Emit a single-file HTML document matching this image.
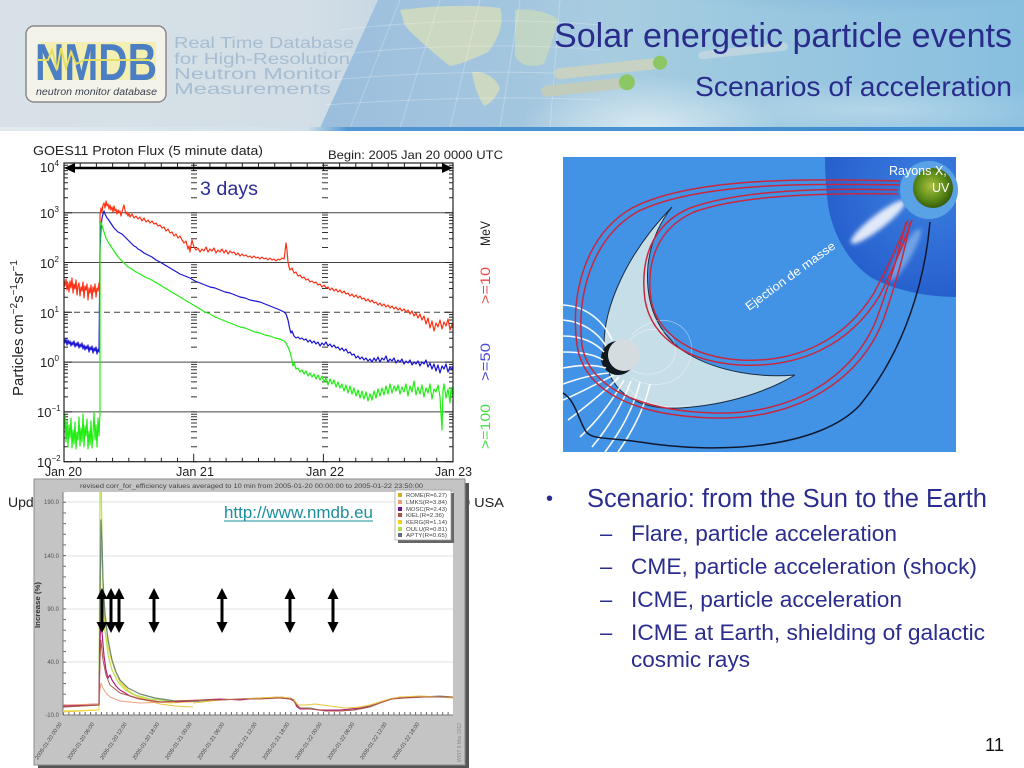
<!DOCTYPE html>
<html><head><meta charset="utf-8">
<style>
html,body{margin:0;padding:0;background:#fff;}
svg{display:block;}
text{font-family:"Liberation Sans",Arial,sans-serif;}
</style></head><body>
<svg width="1024" height="768" viewBox="0 0 1024 768" xmlns="http://www.w3.org/2000/svg">
<defs>
 <linearGradient id="hg" x1="0" y1="0" x2="1" y2="0">
  <stop offset="0" stop-color="#d8e1e7"/>
  <stop offset="0.3" stop-color="#d3dee6"/>
  <stop offset="0.45" stop-color="#bcd2e2"/>
  <stop offset="0.65" stop-color="#a2cbe0"/>
  <stop offset="1" stop-color="#88bfdf"/>
 </linearGradient>
 <linearGradient id="mapg" x1="0" y1="0" x2="1" y2="0">
  <stop offset="0" stop-color="#94badc" stop-opacity="0.9"/>
  <stop offset="0.6" stop-color="#9cc2de" stop-opacity="0.7"/>
  <stop offset="1" stop-color="#a2cbe0" stop-opacity="0"/>
 </linearGradient>
 <radialGradient id="tr" cx="0.5" cy="0" r="0.5">
  <stop offset="0" stop-color="#3f7fcc" stop-opacity="0.5"/>
  <stop offset="1" stop-color="#3f7fcc" stop-opacity="0"/>
 </radialGradient>
 <radialGradient id="sw" cx="0.5" cy="0.5" r="0.5">
  <stop offset="0" stop-color="#ffffff" stop-opacity="0.6"/>
  <stop offset="1" stop-color="#ffffff" stop-opacity="0"/>
 </radialGradient>
 <linearGradient id="hb" x1="0" y1="0" x2="1" y2="0">
  <stop offset="0" stop-color="#e2eaef"/>
  <stop offset="0.3" stop-color="#d0e0ea"/>
  <stop offset="0.34" stop-color="#4f96d2"/>
  <stop offset="1" stop-color="#3a8ad0"/>
 </linearGradient>
 <radialGradient id="fan" cx="929" cy="190" r="150" gradientUnits="userSpaceOnUse">
  <stop offset="0" stop-color="#3b7fe0"/>
  <stop offset="0.6" stop-color="#2a64d0"/>
  <stop offset="1" stop-color="#1d55c4"/>
 </radialGradient>
 <radialGradient id="sun" cx="0.45" cy="0.45" r="0.6">
  <stop offset="0" stop-color="#a8c040"/>
  <stop offset="0.6" stop-color="#5a8a18"/>
  <stop offset="1" stop-color="#2f5208"/>
 </radialGradient>
 <filter id="bl" x="-50%" y="-50%" width="200%" height="200%"><feGaussianBlur stdDeviation="2"/></filter>
 <clipPath id="gc"><rect x="64" y="163" width="389" height="299"/></clipPath>
 <clipPath id="nc"><rect x="63" y="492" width="390" height="223"/></clipPath>
 <clipPath id="hc"><rect x="0" y="0" width="1024" height="128"/></clipPath>
 <g id="tl"><path d="M0 0h8M0-15h4M0-23.8h4M0-30h4M0-34.8h4M0-38.7h4M0-42.1h4M0-45h4M0-47.5h4" stroke="#222" stroke-width="1" fill="none"/></g>
 <g id="tR"><path d="M0 0h-8M0-15h-4M0-23.8h-4M0-30h-4M0-34.8h-4M0-38.7h-4M0-42.1h-4M0-45h-4M0-47.5h-4" stroke="#222" stroke-width="1" fill="none"/></g>
 <g id="tC"><path d="M-3 0h6M-3-15h6M-3-23.8h6M-3-30h6M-3-34.8h6M-3-38.7h6M-3-42.1h6M-3-45h6M-3-47.5h6" stroke="#333" stroke-width="1" fill="none"/></g>
 <pattern id="xt" x="63" y="0" width="5.417" height="768" patternUnits="userSpaceOnUse"><rect x="0" y="0" width="1" height="768" fill="#666"/></pattern>
 <pattern id="yt" x="0" y="715" width="20" height="10.66" patternUnits="userSpaceOnUse"><rect x="0" y="0" width="20" height="1" fill="#666"/></pattern>
</defs>

<!-- HEADER -->
<g clip-path="url(#hc)">
 <rect x="0" y="0" width="1024" height="128" fill="url(#hg)"/>
 <rect x="560" y="-60" width="600" height="150" fill="url(#tr)"/>
 <path d="M378 0 L660 0 L660 128 L320 128 Z" fill="url(#mapg)"/>
 <path d="M400 10 C430 6 470 4 500 8 C505 22 498 40 488 52 C475 58 462 64 450 66 C436 55 418 40 405 26 Z" fill="#d9dfb8" opacity="0.75"/>
 <path d="M472 72 C484 70 496 78 500 88 C496 98 490 104 484 106 C478 96 474 86 472 72 Z" fill="#d9dfb8" opacity="0.75"/>
 <path d="M515 10 C530 8 550 12 558 20 C554 34 550 48 544 64 C532 68 520 66 515 56 Z" fill="#cddcb8" opacity="0.7"/>
 <g stroke="#ffffff" stroke-opacity="0.25" stroke-width="1" fill="none">
  <path d="M340 30 C420 20 520 18 600 25"/>
  <path d="M335 55 C420 45 520 43 600 50"/>
  <path d="M330 80 C420 72 520 70 600 75"/>
  <path d="M325 105 C420 98 520 96 600 100"/>
  <path d="M400 0 L350 128M440 0 L400 128M480 0 L450 128M520 0 L500 128M560 0 L550 128"/>
 </g>
 <ellipse cx="650" cy="130" rx="130" ry="55" fill="url(#sw)"/>
 <ellipse cx="880" cy="110" rx="200" ry="30" fill="url(#sw)" opacity="0.5"/>
 <g transform="rotate(-6 600 75)">
  <rect x="555" y="64" width="105" height="11" rx="5" fill="#c8d2c2"/>
  <circle cx="661" cy="69" r="7" fill="#8cc764"/>
  <rect x="540" y="80" width="85" height="11" rx="5" fill="#c2ccbc"/>
  <circle cx="626" cy="85" r="8" fill="#8cc764"/>
  <rect x="700" y="62" width="90" height="8" rx="4" fill="#d0dce0" opacity="0.6"/>
 </g>
</g>
<rect x="0" y="127" width="1024" height="4" fill="url(#hb)"/>

<!-- logo -->
<rect x="26" y="26" width="140" height="76" rx="8" fill="#f4f3ea" stroke="#8a8a8a" stroke-width="1.5"/>
<rect x="40" y="42" width="116" height="38" fill="#f2ec9a" opacity="0.7"/>
<text x="35" y="80" font-size="52" font-weight="bold" fill="#4b7ec2" textLength="122" lengthAdjust="spacingAndGlyphs">NMDB</text>
<polyline points="38,60 48,60 52,50 57,70 61,48 66,68 71,52 76,64 84,60 150,60" fill="none" stroke="#e6de60" stroke-width="2"/>
<text x="36" y="95" font-size="10" font-style="italic" fill="#3a4050" textLength="121" lengthAdjust="spacingAndGlyphs">neutron monitor database</text>
<g fill="#a6bdd2" font-size="16">
 <text x="174" y="48" textLength="180" lengthAdjust="spacingAndGlyphs">Real Time Database</text>
 <text x="174" y="64" textLength="176" lengthAdjust="spacingAndGlyphs">for High-Resolution</text>
 <text x="174" y="79" textLength="167" lengthAdjust="spacingAndGlyphs">Neutron Monitor</text>
 <text x="174" y="94" textLength="157" lengthAdjust="spacingAndGlyphs">Measurements</text>
</g>
<text x="554" y="47" font-size="34" fill="#2a2c8c" textLength="458" lengthAdjust="spacingAndGlyphs">Solar energetic particle events</text>
<text x="695" y="96" font-size="28" fill="#2a2c8c" textLength="317" lengthAdjust="spacingAndGlyphs">Scenarios of acceleration</text>

<!-- GOES CHART -->
<text x="33" y="155" font-size="13" fill="#222" textLength="230" lengthAdjust="spacingAndGlyphs">GOES11 Proton Flux (5 minute data)</text>
<text x="328" y="159" font-size="12" fill="#222" textLength="175" lengthAdjust="spacingAndGlyphs">Begin: 2005 Jan 20 0000 UTC</text>

<g stroke="#444" stroke-width="1" fill="none">
 <path d="M64 212.7H453M64 262.5H453M64 362.1H453M64 411.9H453"/>
 <path d="M64 312.3H453" stroke-dasharray="6,4"/>
</g>
<use href="#tl" x="64" y="461.7"/><use href="#tl" x="64" y="411.9"/><use href="#tl" x="64" y="362.1"/>
<use href="#tl" x="64" y="312.3"/><use href="#tl" x="64" y="262.5"/><use href="#tl" x="64" y="212.7"/>
<use href="#tR" x="453" y="461.7"/><use href="#tR" x="453" y="411.9"/><use href="#tR" x="453" y="362.1"/>
<use href="#tR" x="453" y="312.3"/><use href="#tR" x="453" y="262.5"/><use href="#tR" x="453" y="212.7"/>
<use href="#tC" x="194" y="461.7"/><use href="#tC" x="194" y="411.9"/><use href="#tC" x="194" y="362.1"/>
<use href="#tC" x="194" y="312.3"/><use href="#tC" x="194" y="262.5"/><use href="#tC" x="194" y="212.7"/>
<use href="#tC" x="325" y="461.7"/><use href="#tC" x="325" y="411.9"/><use href="#tC" x="325" y="362.1"/>
<use href="#tC" x="325" y="312.3"/><use href="#tC" x="325" y="262.5"/><use href="#tC" x="325" y="212.7"/>
<path d="M80.2 461.7v-4M96.4 461.7v-4M112.6 461.7v-4M128.8 461.7v-4M145 461.7v-4M161.3 461.7v-4M177.5 461.7v-4M193.7 461.7v-8M209.9 461.7v-4M226.1 461.7v-4M242.3 461.7v-4M258.5 461.7v-4M274.7 461.7v-4M290.9 461.7v-4M307.2 461.7v-4M323.4 461.7v-8M339.6 461.7v-4M355.8 461.7v-4M372 461.7v-4M388.2 461.7v-4M404.4 461.7v-4M420.6 461.7v-4M436.8 461.7v-4
M80.2 163v4M96.4 163v4M112.6 163v4M128.8 163v4M145 163v4M161.3 163v4M177.5 163v4M193.7 163v8M209.9 163v4M226.1 163v4M242.3 163v4M258.5 163v4M274.7 163v4M290.9 163v4M307.2 163v4M323.4 163v8M339.6 163v4M355.8 163v4M372 163v4M388.2 163v4M404.4 163v4M420.6 163v4M436.8 163v4" stroke="#222" stroke-width="1"/>

<g clip-path="url(#gc)" fill="none" stroke-width="1.2" stroke-linejoin="round">
 <polyline stroke="#ff3216" points="64,280 65,286 66,279 67,290 68,283 69,292 70,281 71,288 72,278 73,293 74,284 75,289 76,280 77,295 78,286 79,283 80,296 81,287 82,291 83,282 84,298 85,286 86,290 87,284 88,300 89,288 90,293 91,285 92,299 93,287 94,292 95,284 96,297 97,288 98,291 99,283 100,295 100,215 101,208 102,212 103,205 104,203 105,208 106,201 107,206 108,204 109,209 110,205 111,210 112,207 113,212 114,206 115,211 116,209 117,214 118,210 119,213 120,211 121,216 122,212 123,208 124,205 125,210 126,214 127,212 128,216 129,213 130,217 132,214 134,218 136,216 138,219 140,217 142,221 144,218 146,222 148,220 150,223 152,221 154,224 156,223 158,226 160,225 162,228 164,227 166,231 168,229 170,233 172,232 174,236 176,234 178,238 180,236 182,240 184,243 186,241 188,249 189,246 190,252 191,245 192,240 193,244 194,247 196,250 198,248 200,252 202,249 204,251 206,247 208,252 210,249 212,251 214,248 216,253 218,250 220,252 222,249 224,253 226,250 228,254 230,251 232,253 234,252 236,255 238,253 240,256 242,254 244,256 246,255 248,257 250,256 252,258 254,256 256,258 258,257 260,259 262,257 264,259 266,258 268,260 270,258 272,260 274,259 276,261 278,259 280,260 282,258 284,259 285,252 286,243 287,250 288,262 289,267 290,270 292,268 294,273 296,272 298,276 300,275 302,278 304,277 306,280 308,279 310,282 312,281 314,283 316,282 318,285 320,284 322,287 324,285 326,288 328,287 330,290 332,288 334,291 336,289 338,292 340,290 342,293 344,291 346,294 348,293 350,296 352,294 354,297 356,295 358,298 360,296 362,299 364,298 366,301 368,299 370,302 372,300 374,303 376,302 378,305 380,303 382,306 384,304 386,307 388,305 390,308 392,306 394,309 396,307 398,310 400,308 402,311 404,309 406,312 408,310 410,314 412,311 414,316 416,313 418,318 420,314 422,320 424,316 426,324 428,318 430,328 432,321 434,331 436,323 438,327 440,320 442,329 444,322 446,326 448,319 450,330 452,324 453,327"/>
 <polyline stroke="#1a14d2" points="64,338 65,343 66,339 67,345 68,340 69,344 70,341 71,346 72,342 73,345 74,341 75,347 76,343 77,346 78,342 79,348 80,344 81,347 82,343 83,349 84,345 85,350 86,346 87,349 88,345 89,352 90,347 91,350 92,346 93,353 94,348 95,351 96,347 97,354 98,349 99,352 100,250 101,228 102,218 103,214 104,211 105,214 106,216 107,218 108,219 110,222 112,225 114,228 116,230 118,232 120,233 122,234 124,236 126,238 128,240 130,242 132,244 134,246 136,247 138,249 140,250 144,253 148,255 152,257 156,260 160,262 165,265 170,268 175,271 180,274 185,276 190,278 195,281 200,283 205,285 210,287 215,288 220,290 225,292 230,293 235,295 240,297 245,298 250,300 255,301 260,302 265,304 270,306 275,308 280,310 284,312 286,314 288,320 290,330 291,333 292,331 294,336 296,338 298,337 300,339 302,338 304,340 306,339 308,342 310,340 312,343 314,341 316,344 318,342 320,346 322,343 324,345 326,342 328,346 330,344 332,347 334,345 336,348 338,347 340,350 342,348 344,351 346,349 348,353 350,352 352,355 354,354 356,358 358,356 360,359 362,357 364,360 366,358 368,361 370,359 372,362 374,358 376,361 378,357 380,362 382,358 384,360 386,356 388,362 390,359 392,361 394,358 396,363 398,360 400,362 402,359 404,364 406,361 408,363 410,360 412,365 414,362 416,364 418,361 420,366 422,362 424,364 426,360 428,367 430,363 432,369 434,364 436,371 438,365 440,373 442,366 444,369 446,364 448,372 450,367 452,370 453,366"/>
 <polyline stroke="#22ee14" points="64,430 65,415 66,442 67,420 68,447 69,425 70,438 71,418 72,448 73,430 74,444 75,422 76,449 77,432 78,440 79,417 80,446 81,428 82,442 83,414 84,447 85,426 86,436 87,419 88,449 89,431 90,445 91,421 92,448 93,433 94,412 95,440 96,425 97,447 98,418 99,436 100,412 100,225 101,222 102,226 103,229 104,232 105,235 106,238 108,242 110,245 112,248 114,251 116,254 118,257 120,259 122,261 124,263 126,265 128,267 130,268 133,270 136,272 140,274 145,277 150,279 155,282 160,285 165,288 170,291 175,294 180,297 185,300 190,303 195,306 200,309 205,312 210,314 215,317 220,319 225,321 230,323 235,325 240,327 245,328 250,330 255,332 260,333 265,335 270,336 275,338 280,339 284,341 286,343 288,347 290,352 292,360 293,366 294,363 296,369 298,368 300,372 302,370 304,374 306,371 308,376 310,373 312,377 314,374 316,379 318,375 320,380 322,376 324,382 326,378 328,385 330,379 332,384 334,380 336,387 338,382 340,388 342,384 344,391 346,385 348,393 350,386 352,394 354,388 356,396 358,390 360,398 362,391 364,399 366,392 368,401 370,394 372,400 374,391 376,398 378,389 380,396 382,388 384,395 386,386 388,394 390,384 392,393 394,386 396,391 398,385 400,394 402,387 404,392 406,384 408,396 410,386 412,392 414,381 416,395 418,387 420,394 422,385 424,397 426,388 428,393 430,384 432,399 434,389 436,392 438,385 440,397 442,430 443,390 444,384 446,398 448,389 450,403 451,388 452,395 453,385"/>
</g>
<rect x="64" y="163" width="389" height="298.7" fill="none" stroke="#222" stroke-width="1.2"/>
<line x1="72" y1="168" x2="445" y2="168" stroke="#000" stroke-width="2.5"/>
<path d="M64 168 L75 163 L75 173 Z M453 168 L442 163 L442 173 Z" fill="#000"/>
<text x="200" y="195" font-size="19" fill="#2d2d96" textLength="58" lengthAdjust="spacingAndGlyphs">3 days</text>

<g font-size="13" fill="#222">
 <text x="40" y="172">10<tspan font-size="8" dy="-6">4</tspan></text>
 <text x="40" y="218">10<tspan font-size="8" dy="-6">3</tspan></text>
 <text x="40" y="268">10<tspan font-size="8" dy="-6">2</tspan></text>
 <text x="40" y="318">10<tspan font-size="8" dy="-6">1</tspan></text>
 <text x="40" y="367">10<tspan font-size="8" dy="-6">0</tspan></text>
 <text x="37" y="417">10<tspan font-size="8" dy="-6">−1</tspan></text>
 <text x="37" y="467">10<tspan font-size="8" dy="-6">−2</tspan></text>
 <text x="45" y="476" textLength="37" lengthAdjust="spacingAndGlyphs">Jan 20</text>
 <text x="176" y="476" textLength="38" lengthAdjust="spacingAndGlyphs">Jan 21</text>
 <text x="306" y="476" textLength="38" lengthAdjust="spacingAndGlyphs">Jan 22</text>
 <text x="435" y="476" textLength="37" lengthAdjust="spacingAndGlyphs">Jan 23</text>
 <text x="8" y="507" font-size="14">Upd</text>
 <text x="462" y="507" font-size="13" textLength="42" lengthAdjust="spacingAndGlyphs">0 USA</text>
</g>
<text transform="translate(23,396) rotate(-90)" font-size="15" fill="#222">Particles cm<tspan font-size="10" dy="-6">−2</tspan><tspan dy="6">s</tspan><tspan font-size="10" dy="-6">−1</tspan><tspan dy="6">sr</tspan><tspan font-size="10" dy="-6">−1</tspan></text>
<g font-size="14">
 <text transform="translate(490,246) rotate(-90)" fill="#222" textLength="25" lengthAdjust="spacingAndGlyphs">MeV</text>
 <text transform="translate(490,304) rotate(-90)" fill="#f04848" textLength="37" lengthAdjust="spacingAndGlyphs">&gt;=10</text>
 <text transform="translate(490,381) rotate(-90)" fill="#4848d4" textLength="38" lengthAdjust="spacingAndGlyphs">&gt;=50</text>
 <text transform="translate(490,449) rotate(-90)" fill="#48dc48" textLength="45" lengthAdjust="spacingAndGlyphs">&gt;=100</text>
</g>

<!-- NMDB panel -->
<rect x="38" y="483" width="431" height="290" fill="#555"/>
<rect x="34" y="479" width="431" height="286" fill="#c4c4c4" stroke="#8c8c8c" stroke-width="1"/>
<rect x="63" y="492" width="390" height="223" fill="#fff"/>
<text x="80" y="488" font-size="6.5" fill="#444" textLength="343" lengthAdjust="spacingAndGlyphs">revised corr_for_efficiency values averaged to 10 min from 2005-01-20 00:00:00 to 2005-01-22 23:50:00</text>
<g stroke="#e2e2e2" stroke-width="1"><path d="M63 502H453M63 556H453M63 609H453M63 662H453"/></g>
<rect x="63" y="492" width="3" height="223" fill="url(#yt)"/>
<rect x="63" y="712" width="390" height="3" fill="url(#xt)"/>
<line x1="63" y1="492" x2="63" y2="715" stroke="#777"/>
<line x1="63" y1="715" x2="453" y2="715" stroke="#777"/>
<g font-size="6" fill="#555" text-anchor="end">
 <text x="59" y="504">190.0</text><text x="59" y="558">140.0</text><text x="59" y="611">90.0</text><text x="59" y="664">40.0</text><text x="59" y="717">-10.0</text>
</g>
<text transform="translate(40,628) rotate(-90)" font-size="7.5" font-weight="bold" fill="#333" textLength="46" lengthAdjust="spacingAndGlyphs">Increase (%)</text>
<g font-size="5.5" fill="#444" text-anchor="end">
 <text transform="translate(62,724) rotate(-56)">2005-01-20 00:00</text>
 <text transform="translate(94.5,724) rotate(-56)">2005-01-20 06:00</text>
 <text transform="translate(127,724) rotate(-56)">2005-01-20 12:00</text>
 <text transform="translate(159.5,724) rotate(-56)">2005-01-20 18:00</text>
 <text transform="translate(192,724) rotate(-56)">2005-01-21 00:00</text>
 <text transform="translate(224.5,724) rotate(-56)">2005-01-21 06:00</text>
 <text transform="translate(257,724) rotate(-56)">2005-01-21 12:00</text>
 <text transform="translate(289.5,724) rotate(-56)">2005-01-21 18:00</text>
 <text transform="translate(322,724) rotate(-56)">2005-01-22 00:00</text>
 <text transform="translate(354.5,724) rotate(-56)">2005-01-22 06:00</text>
 <text transform="translate(387,724) rotate(-56)">2005-01-22 12:00</text>
 <text transform="translate(419.5,724) rotate(-56)">2005-01-22 18:00</text>
</g>
<text transform="translate(461,762) rotate(-90)" font-size="5" fill="#888">WIST  8 Mar 2012</text>

<g clip-path="url(#nc)" fill="none" stroke-width="1" stroke-linejoin="round">
 <polyline stroke="#e8c838" points="63,712 80,711 99,710 100,650 101,545 102,560 104,600 107,630 110,650 114,668 120,682 130,693 145,700 160,704 175,706 193,707"/>
 <polyline stroke="#f2dc40" points="63,711 99,710 100,630 102,612 105,632 110,656 115,670 120,680 128,690 135,695 150,701 170,703 190,702 200,701"/>
 <polyline stroke="#b8e04a" stroke-width="1.2" points="63,706 80,705 99,704 100,492 101,470 102,540 103,590 105,630 108,655 112,670 118,682 125,690 135,695 150,699 170,701 200,701"/>
 <polyline stroke="#6e8a74" stroke-width="1.2" points="63,707 80,706 99,705 100,600 101,520 102,540 103,580 105,615 108,640 112,660 116,672 120,680 128,688 140,694 155,698 175,701 200,701"/>
 <polyline stroke="#b0207c" stroke-width="1.2" points="63,706 80,705 99,704 100,640 101,620 102,632 104,656 106,670 108,678 110,675 112,680 116,686 120,690 130,696 140,699 160,702 200,701"/>
 <polyline stroke="#f0a080" points="63,705 99,704 100,690 101,683 103,688 106,693 110,697 120,701 140,703 200,701"/>
 <polyline stroke="#b05848" points="63,707 99,705 100,660 101,640 103,660 106,675 110,685 120,693 140,699 160,702 200,701"/>
 <polyline stroke="#6e8a74" points="175,701 200,701 220,700 240,699 260,698 280,697 290,698 294,700 297,706 300,708 310,708 320,710 330,711 340,711 350,710 360,709 370,707 380,703 390,699 400,697 420,697 440,696 453,697"/>
 <polyline stroke="#b0207c" points="175,702 200,700 220,699 240,700 260,698 280,698 290,699 294,701 297,707 300,709 310,709 320,710 330,710 340,710 350,709 360,708 370,706 380,702 390,699 400,698 420,697 440,697 453,697"/>
 <polyline stroke="#e8c838" points="193,703 220,700 240,699 260,698 280,697 290,698 295,701 298,705 305,705 315,704 330,706 345,708 360,707 370,705 380,702 390,699 400,697 420,696 440,697 453,698"/>
 <polyline stroke="#b05848" points="175,701 200,700 220,700 240,699 260,699 280,698 292,699 296,704 300,708 312,709 325,711 340,711 355,710 368,707 380,703 392,699 405,698 425,697 453,697"/>
</g>
<rect x="398" y="493" width="56" height="50" fill="#666"/>
<rect x="395" y="490" width="56" height="50" fill="#fff" stroke="#999" stroke-width="0.7"/>
<g font-size="5.5" fill="#444">
 <rect x="398" y="493" width="4" height="4" fill="#d4b020"/><text x="406" y="497" textLength="41" lengthAdjust="spacingAndGlyphs">ROME(R=6.27)</text>
 <rect x="398" y="500" width="4" height="4" fill="#f0a070"/><text x="406" y="504" textLength="41" lengthAdjust="spacingAndGlyphs">LMKS(R=3.84)</text>
 <rect x="398" y="507" width="4" height="4" fill="#7010a0"/><text x="406" y="511" textLength="41" lengthAdjust="spacingAndGlyphs">MOSC(R=2.43)</text>
 <rect x="398" y="513" width="4" height="4" fill="#b05040"/><text x="406" y="517" textLength="38" lengthAdjust="spacingAndGlyphs">KIEL(R=2.36)</text>
 <rect x="398" y="520" width="4" height="4" fill="#f0d020"/><text x="406" y="524" textLength="41" lengthAdjust="spacingAndGlyphs">KERG(R=1.14)</text>
 <rect x="398" y="527" width="4" height="4" fill="#b0e040"/><text x="406" y="531" textLength="41" lengthAdjust="spacingAndGlyphs">OULU(R=0.81)</text>
 <rect x="398" y="533" width="4" height="4" fill="#607080"/><text x="406" y="537" textLength="41" lengthAdjust="spacingAndGlyphs">APTY(R=0.65)</text>
</g>
<text x="224" y="518" font-size="17" fill="#1b8f9e" textLength="149" lengthAdjust="spacingAndGlyphs">http://www.nmdb.eu</text>
<line x1="224" y1="521" x2="373" y2="521" stroke="#1b8f9e" stroke-width="1"/>
<g stroke="#000" stroke-width="3">
 <path d="M102 596V625M111 596V625M119 596V625M154 596V625M222 596V625M290 596V625M333 596V625"/>
</g>
<g fill="#000">
 <path d="M96.5 599L102 588L107.5 599ZM96.5 622L102 633L107.5 622Z"/>
 <path d="M105.5 599L111 588L116.5 599ZM105.5 622L111 633L116.5 622Z"/>
 <path d="M113.5 599L119 588L124.5 599ZM113.5 622L119 633L124.5 622Z"/>
 <path d="M148.5 599L154 588L159.5 599ZM148.5 622L154 633L159.5 622Z"/>
 <path d="M216.5 599L222 588L227.5 599ZM216.5 622L222 633L227.5 622Z"/>
 <path d="M284.5 599L290 588L295.5 599ZM284.5 622L290 633L295.5 622Z"/>
 <path d="M327.5 599L333 588L338.5 599ZM327.5 622L333 633L338.5 622Z"/>
</g>

<!-- RIGHT IMAGE -->
<rect x="563" y="157" width="393" height="295" fill="#4293e6"/>
<path d="M825 157 L956 157 L956 297 C925 297 895 290 872 278 C848 262 833 235 828 205 C826 188 825 172 825 157 Z" fill="url(#fan)"/>
<g filter="url(#bl)">
 <ellipse cx="878" cy="222" rx="34" ry="7" transform="rotate(-38 878 222)" fill="#ffffff" opacity="0.85"/>
 <ellipse cx="905" cy="255" rx="30" ry="6" transform="rotate(-60 905 255)" fill="#9cc4f0" opacity="0.6"/>
</g>
<circle cx="929" cy="190" r="29" fill="#5aa2e6"/>
<circle cx="933" cy="188" r="20" fill="url(#sun)"/>
<text x="889" y="175" font-size="12.5" fill="#fff">Rayons X,</text>
<text x="932" y="192" font-size="12.5" fill="#fff">UV</text>
<path d="M672 207 C630 250 598 310 605 360 C612 395 640 410 680 408 C730 405 770 390 795 375 C760 378 720 372 690 355 C655 335 645 300 648 265 C651 240 660 222 672 207 Z" fill="#c6dee8" stroke="#1e2c40" stroke-width="1"/>
<g stroke="#ffffff" stroke-opacity="0.45" stroke-width="0.8" fill="none">
 <path d="M630 340 C650 320 680 330 675 355 C670 375 645 378 632 370"/>
 <path d="M632 335 C660 305 700 325 690 360 C680 390 645 388 632 378"/>
 <path d="M626 385 C640 405 665 410 690 405"/>
</g>
<circle cx="618" cy="358" r="17" fill="#101820"/>
<circle cx="624" cy="355" r="16" fill="#d4dcdf"/>
<g stroke="#ffffff" stroke-width="1.6" fill="none" opacity="0.95">
 <path d="M563 305 C585 306 603 320 612 340"/>
 <path d="M563 320 C584 322 598 333 606 346"/>
 <path d="M563 336 C582 336 596 343 604 352"/>
 <path d="M563 352 C580 352 594 354 603 360"/>
 <path d="M563 368 C578 365 593 364 606 368"/>
 <path d="M563 384 C580 378 596 374 609 373"/>
 <path d="M563 400 C582 392 600 382 614 375"/>
 <path d="M568 420 C588 405 606 390 619 377"/>
 <path d="M580 437 C598 420 613 400 624 380"/>
 <path d="M592 447 C608 428 622 405 631 381"/>
 <path d="M605 452 C620 432 633 410 640 382"/>
 <path d="M618 452 C632 432 644 410 650 384"/>
</g>
<g stroke="#c8283e" stroke-width="1.5" fill="none">
 <path d="M900 181 C800 178 690 178 632 208 C585 235 570 295 577 345 C584 392 635 416 715 418 C800 420 862 378 884 318 C897 280 906 245 910 222"/>
 <path d="M900 185 C805 183 695 183 637 212 C592 238 576 296 582 345 C589 388 640 411 715 413 C795 415 855 375 877 318 C890 282 900 248 906 222"/>
 <path d="M898 190 C820 188 740 190 690 208 C650 225 640 262 645 300 C652 340 690 362 740 365 C800 368 850 345 880 295 C895 265 905 240 912 220"/>
 <path d="M898 194 C820 193 742 195 694 212 C656 229 646 264 651 300 C658 336 694 357 740 360 C797 363 845 340 874 293 C889 265 900 240 908 220"/>
</g>
<path d="M930 222 C925 280 905 350 860 405 C820 448 720 455 640 442 C605 437 590 440 585 430 C578 418 575 400 563 393" stroke="#101830" stroke-width="1.5" fill="none"/>
<text transform="translate(749,311) rotate(-36)" font-size="12" fill="#fff" textLength="108" lengthAdjust="spacingAndGlyphs">Ejection de masse</text>

<!-- BULLETS -->
<g fill="#2b2d8e">
 <text x="546" y="505" font-size="20">•</text>
 <text x="587" y="507" font-size="25.5" textLength="400" lengthAdjust="spacingAndGlyphs">Scenario: from the Sun to the Earth</text>
 <text x="600" y="541" font-size="22">–</text>
 <text x="631" y="541" font-size="22.5" textLength="266" lengthAdjust="spacingAndGlyphs">Flare, particle acceleration</text>
 <text x="600" y="574" font-size="22">–</text>
 <text x="631" y="574" font-size="22.5" textLength="346" lengthAdjust="spacingAndGlyphs">CME, particle acceleration (shock)</text>
 <text x="600" y="607" font-size="22">–</text>
 <text x="631" y="607" font-size="22.5" textLength="271" lengthAdjust="spacingAndGlyphs">ICME, particle acceleration</text>
 <text x="600" y="640" font-size="22">–</text>
 <text x="631" y="640" font-size="22.5" textLength="354" lengthAdjust="spacingAndGlyphs">ICME at Earth, shielding of galactic</text>
 <text x="631" y="667" font-size="22.5" textLength="119" lengthAdjust="spacingAndGlyphs">cosmic rays</text>
</g>
<text x="985" y="751" font-size="18" fill="#111" textLength="19" lengthAdjust="spacingAndGlyphs">11</text>
</svg>
</body></html>
